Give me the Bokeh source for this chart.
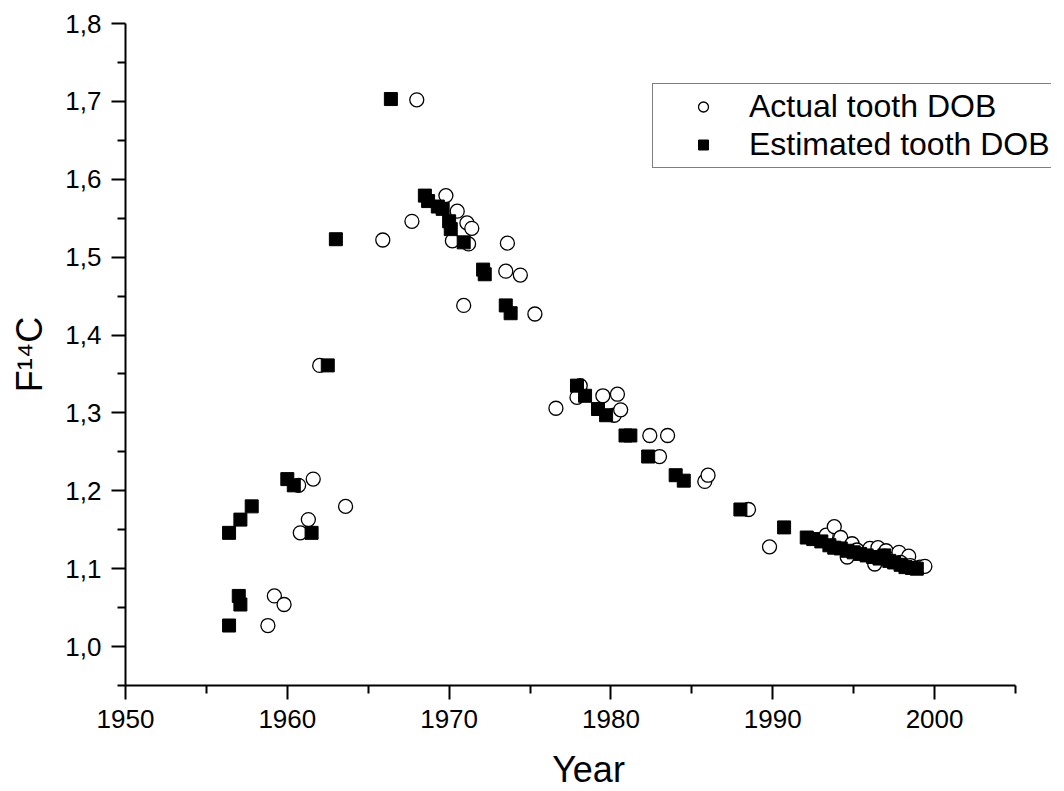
from bokeh.plotting import figure
from bokeh.models import FixedTicker, CustomJSTickFormatter, Legend, LegendItem, Range1d
from bokeh.embed import file_html
from bokeh.resources import INLINE

actual_year = [1958.8, 1959.2, 1959.8, 1960.8, 1961.3, 1960.7, 1961.6, 1963.6, 1962.0, 1965.9,
               1967.7, 1968.0, 1969.8, 1970.5, 1971.1, 1971.4, 1970.2, 1971.2, 1973.6, 1973.5,
               1974.4, 1970.9, 1975.3, 1976.6, 1978.1, 1977.9, 1979.5, 1980.4, 1980.2, 1980.6,
               1982.4, 1983.5, 1983.0, 1985.8, 1986.0, 1988.5, 1989.8, 1993.3, 1993.8, 1994.2,
               1994.9, 1994.6, 1995.5, 1995.9, 1996.0, 1996.3, 1996.5, 1997.0, 1996.9, 1997.4,
               1997.8, 1998.4, 1998.5, 1999.1, 1999.4, 1995.2, 1997.9]
actual_f14c = [1.027, 1.065, 1.054, 1.146, 1.163, 1.207, 1.215, 1.180, 1.361, 1.522,
               1.546, 1.702, 1.579, 1.559, 1.544, 1.537, 1.521, 1.517, 1.518, 1.482,
               1.477, 1.438, 1.427, 1.306, 1.335, 1.320, 1.322, 1.324, 1.297, 1.304,
               1.271, 1.271, 1.244, 1.212, 1.220, 1.176, 1.128, 1.143, 1.154, 1.140,
               1.132, 1.115, 1.121, 1.118, 1.126, 1.106, 1.127, 1.123, 1.116, 1.112,
               1.121, 1.116, 1.104, 1.102, 1.103, 1.124, 1.108]

estimated_year = [1956.4, 1957.0, 1957.1, 1956.4, 1957.1, 1957.8, 1960.0, 1960.4, 1961.5, 1962.5,
                  1963.0, 1966.4, 1968.5, 1968.7, 1969.3, 1969.6, 1970.0, 1970.1, 1970.9, 1972.1,
                  1972.2, 1973.5, 1973.8, 1977.9, 1978.4, 1979.2, 1979.7, 1980.9, 1981.2, 1982.3,
                  1984.0, 1984.5, 1988.0, 1990.7, 1992.1, 1992.5, 1993.0, 1993.5, 1993.8, 1994.2,
                  1994.6, 1995.0, 1995.4, 1995.8, 1996.2, 1996.6, 1996.9, 1997.2, 1997.5, 1997.9,
                  1998.2, 1998.6, 1998.9]
estimated_f14c = [1.027, 1.065, 1.054, 1.146, 1.163, 1.180, 1.215, 1.207, 1.146, 1.361,
                  1.523, 1.703, 1.579, 1.572, 1.565, 1.562, 1.546, 1.536, 1.519, 1.484,
                  1.478, 1.438, 1.428, 1.335, 1.322, 1.305, 1.297, 1.271, 1.271, 1.244,
                  1.220, 1.213, 1.176, 1.153, 1.140, 1.138, 1.135, 1.130, 1.127, 1.126,
                  1.123, 1.121, 1.119, 1.117, 1.115, 1.113, 1.117, 1.110, 1.108, 1.105,
                  1.102, 1.101, 1.100]

x_major = [1950, 1960, 1970, 1980, 1990, 2000]
x_minor = [1955, 1965, 1975, 1985, 1995, 2005]
y_major = [1.0, 1.1, 1.2, 1.3, 1.4, 1.5, 1.6, 1.7, 1.8]
y_minor = [0.95, 1.05, 1.15, 1.25, 1.35, 1.45, 1.55, 1.65, 1.75]

FONT = "Liberation Sans"
PX_PER_YEAR = 890 / 55.0
FRAME_W = 926

p = figure(frame_width=FRAME_W, frame_height=662, width=1056, height=785,
           x_range=Range1d(1950, 1950 + FRAME_W / PX_PER_YEAR), y_range=Range1d(0.95, 1.8),
           output_backend="svg", toolbar_location=None,
           min_border_left=125, min_border_top=23, min_border_right=5, min_border_bottom=98)
p.outline_line_color = None
p.xgrid.visible = False
p.ygrid.visible = False
p.background_fill_color = "white"
p.border_fill_color = "white"

r_act = p.scatter(actual_year, actual_f14c, marker="circle", size=14,
                  fill_color="white", line_color="black", line_width=1.3)
r_est = p.scatter(estimated_year, estimated_f14c, marker="square", size=13,
                  fill_color="black", line_color="black", line_width=1)

p.xaxis.ticker = FixedTicker(ticks=x_major, minor_ticks=x_minor)
p.xaxis.bounds = (1950, 2005)
p.yaxis.ticker = FixedTicker(ticks=y_major, minor_ticks=y_minor)
p.yaxis.formatter = CustomJSTickFormatter(code="return tick.toFixed(1).replace('.', ',');")

for ax in (p.xaxis[0], p.yaxis[0]):
    ax.axis_line_width = 2
    ax.axis_line_color = "black"
    ax.major_tick_line_width = 2
    ax.minor_tick_line_width = 2
    ax.major_tick_line_color = "black"
    ax.minor_tick_line_color = "black"
    ax.major_tick_out = 14
    ax.major_tick_in = 0
    ax.minor_tick_out = 8
    ax.minor_tick_in = 0
    ax.major_label_text_font = FONT
    ax.major_label_text_font_size = "26px"
    ax.major_label_text_color = "black"
    ax.major_label_standoff = 10
    ax.axis_label_text_font = FONT
    ax.axis_label_text_font_size = "36px"
    ax.axis_label_text_font_style = "normal"
    ax.axis_label_text_color = "black"

p.xaxis.axis_label = "Year"
p.xaxis.axis_label_standoff = 18
p.yaxis.axis_label = "F\u00b9\u2074C"
p.yaxis.axis_label_standoff = 12

legend = Legend(items=[LegendItem(label="Actual tooth DOB", renderers=[r_act]),
                       LegendItem(label="Estimated tooth DOB", renderers=[r_est])],
                location=(527, 517))
legend.border_line_color = "black"
legend.border_line_width = 1
legend.background_fill_color = "white"
legend.background_fill_alpha = 1
legend.label_text_font = FONT
legend.label_text_font_size = "32px"
legend.label_text_color = "black"
legend.padding = 4
legend.spacing = 1
legend.glyph_width = 92
legend.glyph_height = 25
legend.label_standoff = 0
legend.margin = 0
p.add_layout(legend, "center")

open("out.html", "w").write(file_html(p, INLINE))
